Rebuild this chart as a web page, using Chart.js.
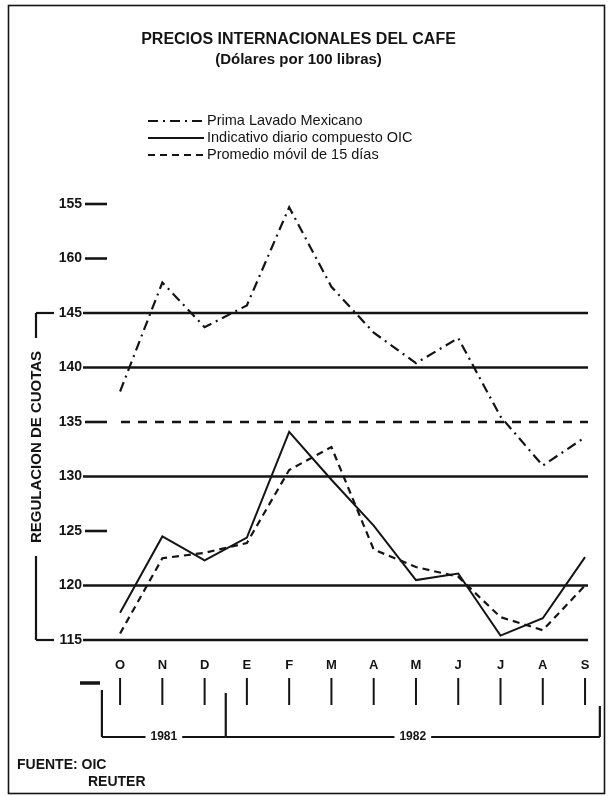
<!DOCTYPE html>
<html><head><meta charset="utf-8">
<script src="https://cdn.jsdelivr.net/npm/chart.js@4.4.1/dist/chart.umd.min.js"></script>
<style>html,body{margin:0;padding:0;background:#fff}canvas{display:block}</style>
</head><body>
<canvas id="c" width="612" height="796"></canvas>
<script>
// ---- data ----
const months = ['O','N','D','E','F','M','A','M','J','J','A','S'];
const primaLavado   = [137.8,147.8,143.7,145.7,154.7,147.4,143.2,140.4,142.7,135.5,131.0,133.6];
const indicativoOIC = [117.5,124.5,122.3,124.4,134.1,129.7,125.5,120.5,121.1,115.4,117.0,122.6];
const promedioMovil = [115.6,122.5,123.0,123.9,130.6,132.7,123.3,121.7,120.8,117.1,115.9,120.0];
const yTickValues = [115,120,125,130,135,140,145,150,155];
const yTickLabels = ['115','120','125','130','135','140','145','160','155'];
const fullLines = [145,140,130,120,115];
const dashedLine = 135;
const quotaRange = [115,145];
const yearLabels = ['1981','1982'];
const yearBounds = [-0.43, 2.5, 11.35];
const seriesNames = ['Prima Lavado Mexicano','Indicativo diario compuesto OIC','Promedio m\u00f3vil de 15 d\u00edas'];
const titleText = 'PRECIOS INTERNACIONALES DEL CAFE';
const subtitleText = '(D\u00f3lares por 100 libras)';
const axisTitle = 'REGULACION DE CUOTAS';
const sourceLines = ['FUENTE: OIC','REUTER'];

const INK = '#141414';
const FONT = '"Liberation Sans", Arial, sans-serif';
const toPts = arr => arr.map((v,i)=>({x:i,y:v}));

const dashes = [[10,5,2,5], [], [7,5]];
const widths = [2.2, 2.0, 2.2];

const deco = {
  id:'deco',
  beforeDatasetsDraw(chart){
    const {ctx, chartArea:a, scales:{y}} = chart;
    ctx.save();
    ctx.strokeStyle = INK; ctx.lineWidth = 2.6;
    const seg=(x1,y1,x2,y2)=>{ctx.beginPath();ctx.moveTo(x1,y1);ctx.lineTo(x2,y2);ctx.stroke();};
    yTickValues.forEach(v=>{
      const py = y.getPixelForValue(v);
      ctx.setLineDash([]);
      if (fullLines.includes(v)) seg(a.left-2, py, a.right, py);
      else {
        seg(a.left, py, a.left+22, py);
        if (v===dashedLine){ ctx.setLineDash([9,8]); seg(a.left+36, py, a.right, py); }
      }
    });
    ctx.restore();
  },
  afterDraw(chart){
    const {ctx, chartArea:a, scales:{x,y}} = chart;
    ctx.save();
    ctx.strokeStyle = INK; ctx.fillStyle = INK;
    const seg=(x1,y1,x2,y2)=>{ctx.beginPath();ctx.moveTo(x1,y1);ctx.lineTo(x2,y2);ctx.stroke();};
    // frame
    ctx.lineWidth = 1.6; ctx.setLineDash([]);
    ctx.strokeRect(8.5, 5.5, 596, 788);
    // legend
    ctx.font = '14.5px ' + FONT; ctx.textBaseline = 'middle'; ctx.textAlign = 'left';
    seriesNames.forEach((n,i)=>{
      const ly = 121 + i*17;
      ctx.lineWidth = widths[i]; ctx.setLineDash(dashes[i]);
      seg(148, ly, 204, ly);
      ctx.setLineDash([]);
      ctx.fillText(n, 207, ly);
    });
    // quota bracket + rotated axis title
    const yTop = y.getPixelForValue(quotaRange[1]), yBot = y.getPixelForValue(quotaRange[0]);
    const bx = 36;
    ctx.lineWidth = 2.2; ctx.setLineDash([]);
    seg(bx, yTop, 54, yTop); seg(bx, yBot, 54, yBot);
    seg(bx, yTop, bx, 338); seg(bx, 556, bx, yBot);
    ctx.save();
    ctx.translate(bx+1, 447); ctx.rotate(-Math.PI/2);
    ctx.font = 'bold 15px ' + FONT; ctx.textAlign='center'; ctx.textBaseline='middle';
    ctx.fillText(axisTitle, 0, 0);
    ctx.restore();
    // month bars
    ctx.lineWidth = 2;
    months.forEach((m,i)=>{ const px = x.getPixelForValue(i); seg(px, 678, px, 705); });
    ctx.lineWidth = 3.5; seg(80, 683, 100, 683);
    // year bracket
    const bxs = yearBounds.map(v=>x.getPixelForValue(v));
    const ly = 737;
    ctx.lineWidth = 2.2;
    seg(bxs[0], 690, bxs[0], ly);
    seg(bxs[1], 693, bxs[1], ly);
    seg(bxs[2], 706, bxs[2], ly);
    ctx.font = 'bold 12px ' + FONT; ctx.textAlign='center'; ctx.textBaseline='middle';
    yearLabels.forEach((t,i)=>{
      const cx = (bxs[i]+bxs[i+1])/2;
      const w = ctx.measureText(t).width/2 + 5;
      seg(bxs[i], ly, cx-w, ly); seg(cx+w, ly, bxs[i+1], ly);
      ctx.fillText(t, cx, ly);
    });
    // source
    ctx.font = 'bold 14px ' + FONT; ctx.textAlign='left';
    ctx.fillText(sourceLines[0], 17, 765);
    ctx.fillText(sourceLines[1], 88, 782);
    ctx.restore();
  }
};

new Chart(document.getElementById('c'), {
  type:'line',
  data:{
    datasets:[
      {label:seriesNames[0], data:toPts(primaLavado), borderColor:INK, borderWidth:widths[0], borderDash:dashes[0], pointRadius:0, tension:0, fill:false},
      {label:seriesNames[1], data:toPts(indicativoOIC), borderColor:INK, borderWidth:widths[1], borderDash:dashes[1], pointRadius:0, tension:0, fill:false},
      {label:seriesNames[2], data:toPts(promedioMovil), borderColor:INK, borderWidth:widths[2], borderDash:dashes[2], pointRadius:0, tension:0, fill:false}
    ]
  },
  options:{
    responsive:false, animation:false, devicePixelRatio:1,
    layout:{padding:{left:9, right:24, top:0, bottom:0}},
    plugins:{
      legend:{display:false}, tooltip:{enabled:false},
      title:{display:true, text:titleText, color:INK, font:{family:FONT, size:16, weight:'bold'}, padding:{top:30, bottom:0}},
      subtitle:{display:true, text:subtitleText, color:INK, font:{family:FONT, size:15, weight:'bold'}, padding:{top:2, bottom:134.8}}
    },
    scales:{
      x:{type:'linear', min:-0.83, max:11.07,
         afterBuildTicks:s=>{ s.ticks = months.map((m,i)=>({value:i})); },
         afterFit:s=>{ s.height = 156; },
         grid:{display:false, drawTicks:false}, border:{display:false},
         ticks:{padding:18, autoSkip:false, maxRotation:0, color:INK, font:{family:FONT, size:13, weight:'bold'}, callback:(v,i)=>months[i]}},
      y:{type:'linear', min:115, max:155,
         afterBuildTicks:s=>{ s.ticks = yTickValues.map(v=>({value:v})); },
         afterFit:s=>{ s.width = 76; },
         grid:{display:false, drawTicks:false}, border:{display:false},
         ticks:{padding:3, color:INK, font:{family:FONT, size:14, weight:'bold'}, callback:(v,i)=>yTickLabels[i]}}
    }
  },
  plugins:[deco]
});
</script>
</body></html>
